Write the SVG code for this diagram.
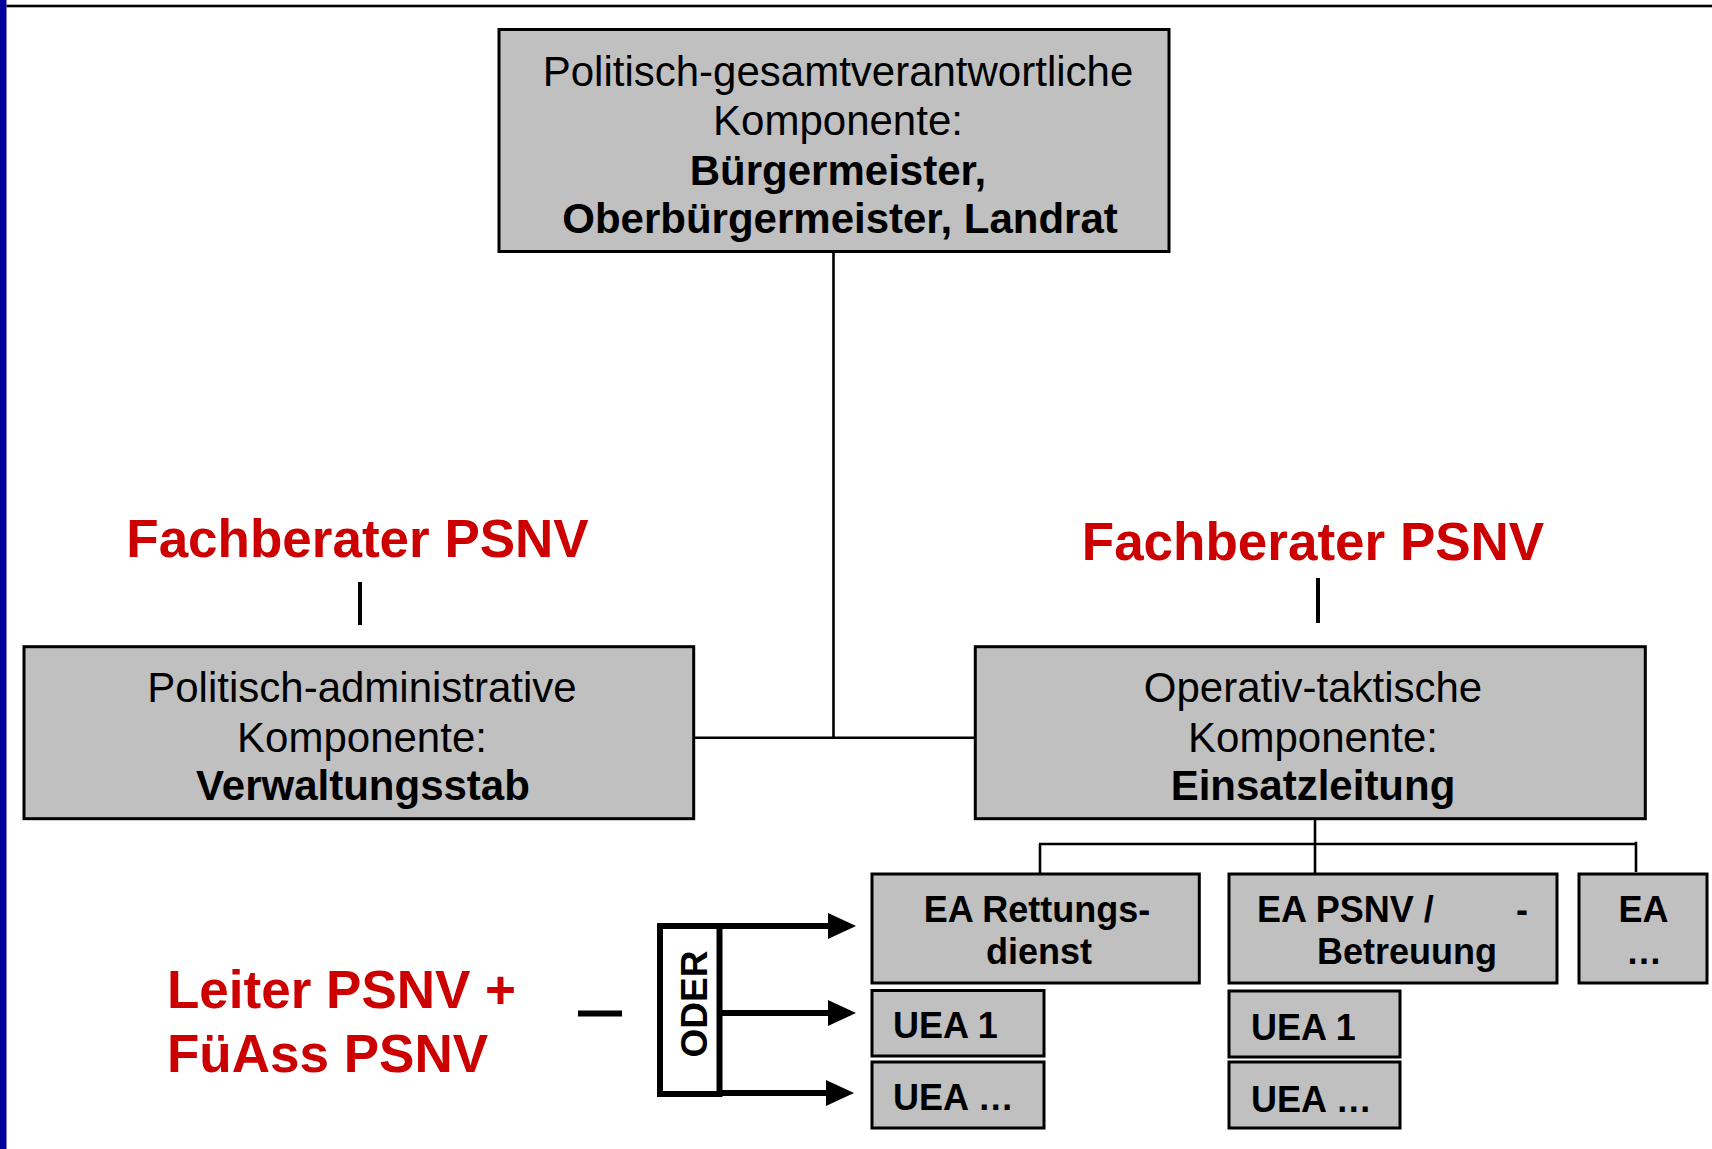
<svg xmlns="http://www.w3.org/2000/svg" width="1712" height="1149" viewBox="0 0 1712 1149">
<style>
text{font-family:"Liberation Sans",Arial,Helvetica,sans-serif;fill:#000}
.box{fill:#C0C0C0;stroke:#000;stroke-width:3}
.r{font-size:42px}
.b{font-size:42px;font-weight:bold}
.m{text-anchor:middle}
.s{font-size:36px;font-weight:bold}
.red{font-size:53px;font-weight:bold;fill:#CC0000}
.ln{stroke:#000;stroke-width:2.6;fill:none}
.thick{stroke:#000;stroke-width:6;fill:none}
</style>
<rect x="0" y="0" width="1712" height="1149" fill="#fff"/>
<rect x="0" y="0" width="6.5" height="1149" fill="#00009C"/>
<rect x="6.5" y="4.7" width="1705.5" height="2.6" fill="#000"/>

<g id="connectors">
<line class="ln" x1="833.5" y1="251.5" x2="833.5" y2="737"/>
<line class="ln" x1="693.7" y1="737.7" x2="975.3" y2="737.7" stroke-width="3"/>
<line class="ln" x1="1315" y1="818.7" x2="1315" y2="874"/>
<line class="ln" x1="1039" y1="844" x2="1636" y2="844"/>
<line class="ln" x1="1040" y1="844" x2="1040" y2="874"/>
<line class="ln" x1="1636" y1="841.7" x2="1636" y2="872"/>
<line x1="360" y1="582" x2="360" y2="625" stroke="#000" stroke-width="4"/>
<line x1="1318" y1="578" x2="1318" y2="623" stroke="#000" stroke-width="4"/>
<line x1="578" y1="1013.5" x2="622" y2="1013.5" stroke="#000" stroke-width="6"/>
<line class="thick" x1="719.5" y1="926" x2="830" y2="926"/>
<line class="thick" x1="719.5" y1="1013" x2="830" y2="1013"/>
<line class="thick" x1="719.5" y1="1093" x2="828" y2="1093"/>
<polygon points="828,913 856,926 828,939" fill="#000"/>
<polygon points="828,1000 856,1013 828,1026" fill="#000"/>
<polygon points="826,1080 854,1093 826,1106" fill="#000"/>
</g>

<g id="top">
<rect class="box" x="499" y="29.5" width="670" height="222"/>
<text class="r m" x="838" y="86">Politisch-gesamtverantwortliche</text>
<text class="r m" x="838" y="135">Komponente:</text>
<text class="b m" x="838" y="185">Bürgermeister,</text>
<text class="b m" x="840" y="233">Oberbürgermeister, Landrat</text>
</g>

<g id="fachberater-left">
<text class="red m" x="357.5" y="557">Fachberater PSNV</text>
</g>
<g id="fachberater-right">
<text class="red m" x="1313" y="560">Fachberater PSNV</text>
</g>

<g id="verwaltungsstab">
<rect class="box" x="24" y="646.7" width="669.7" height="172"/>
<text class="r m" x="362" y="702">Politisch-administrative</text>
<text class="r m" x="362" y="752">Komponente:</text>
<text class="b m" x="363" y="800">Verwaltungsstab</text>
</g>

<g id="einsatzleitung">
<rect class="box" x="975.3" y="646.7" width="670" height="172"/>
<text class="r m" x="1313" y="702">Operativ-taktische</text>
<text class="r m" x="1313" y="752">Komponente:</text>
<text class="b m" x="1313" y="800">Einsatzleitung</text>
</g>

<g id="ea-rettungsdienst">
<rect class="box" x="872" y="874" width="327.3" height="109"/>
<text class="s m" x="1037" y="922">EA Rettungs-</text>
<text class="s m" x="1039" y="964">dienst</text>
</g>

<g id="ea-psnv">
<rect class="box" x="1229" y="874" width="328" height="109"/>
<text class="s" x="1257" y="922">EA PSNV /</text>
<text class="s" x="1516" y="922">-</text>
<text class="s" x="1317" y="964">Betreuung</text>
</g>

<g id="ea-more">
<rect class="box" x="1579" y="874" width="128" height="109"/>
<text class="s m" x="1643.5" y="922">EA</text>
<text class="s m" x="1644" y="964">…</text>
</g>

<g id="uea-l1">
<rect class="box" x="872" y="990.5" width="172" height="65.5"/>
<text class="s" x="893" y="1038">UEA 1</text>
</g>
<g id="uea-l2">
<rect class="box" x="872" y="1062" width="172" height="66"/>
<text class="s" x="893" y="1110">UEA …</text>
</g>
<g id="uea-r1">
<rect class="box" x="1229" y="991" width="171" height="66"/>
<text class="s" x="1251" y="1040">UEA 1</text>
</g>
<g id="uea-r2">
<rect class="box" x="1229" y="1062" width="171" height="66"/>
<text class="s" x="1251" y="1112">UEA …</text>
</g>

<g id="leiter">
<text class="red" x="167" y="1008">Leiter PSNV +</text>
<text class="red" x="167" y="1072">FüAss PSNV</text>
</g>

<g id="oder">
<rect x="660" y="926" width="59.5" height="168" fill="#fff" stroke="#000" stroke-width="6"/>
<text class="m" transform="translate(707,1004) rotate(-90)" x="0" y="0" font-size="37" font-weight="bold">ODER</text>
</g>
</svg>
